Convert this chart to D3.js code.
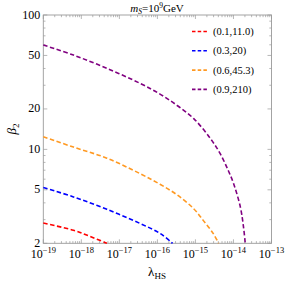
<!DOCTYPE html>
<html>
<head>
<meta charset="utf-8">
<script src="https://cdn.jsdelivr.net/npm/d3@7"></script>
<style>
  body { margin: 0; background: #fff; }
  text { font-family: "Liberation Serif", "DejaVu Serif", serif; fill: #000; }
</style>
</head>
<body>
<div id="chart"></div>
<script>
// curves: lambda_HS vs beta_2
var redLambda = [1e-19, 6.2e-19, 1.7e-18, 4.7e-18];
var redBeta = [2.83, 2.5, 2.25, 2.0];
var blueLambda = [1e-19, 6.2e-19, 4.7e-18, 3.5e-17, 1.2e-16, 2.5e-16];
var blueBeta = [5.2, 4.43, 3.58, 2.81, 2.36, 2.0];
var orangeLambda = [1e-19, 6.2e-19, 4.7e-18, 3.5e-17, 1.17e-16, 3.24e-16, 8.9e-16, 1.62e-15, 2.95e-15, 4.07e-15];
var orangeBeta = [12.4, 10.4, 8.6, 6.6, 5.5, 4.6, 3.63, 2.95, 2.36, 2.0];
var purpleLambda = [1e-19, 6.2e-19, 4.7e-18, 3.5e-17, 1.17e-16, 3.24e-16, 8.9e-16, 2.45e-15, 4.47e-15, 7.4e-15, 1e-14, 1.51e-14, 1.82e-14, 2.04e-14];
var purpleBeta = [59.8, 50.3, 40.1, 31.0, 25.8, 21.3, 17.0, 12.1, 9.3, 6.9, 5.6, 3.75, 2.7, 2.0];

var legendLabels = ["(0.1,11.0)", "(0.3,20)", "(0.6,45.3)", "(0.9,210)"];
var colors = ["#ff0000", "#0000ff", "#ff9922", "#800080"];
var xTickExps = [-19, -18, -17, -16, -15, -14, -13];
var yTickValues = [2, 5, 10, 20, 50, 100];

var series = [
  {lambda: redLambda, beta: redBeta},
  {lambda: blueLambda, beta: blueBeta},
  {lambda: orangeLambda, beta: orangeBeta},
  {lambda: purpleLambda, beta: purpleBeta}
];

var W = 285, H = 284;
// plot frame (note: "top" is reserved on window, so use a prefix)
var pLeft = 43.3, pRight = 271.5, pTop = 15, pBottom = 243.3;

var svg = d3.select("#chart").append("svg")
  .attr("width", W)
  .attr("height", H);

var x = d3.scaleLog().domain([1e-19, 1e-13]).range([pLeft, pRight]);
var y = d3.scaleLog().domain([2, 100]).range([pBottom, pTop]);

var frameColor = "#9a9a9a";

// minor and major ticks
var xMinor = [];
for (var e = -19; e < -13; e++) {
  for (var m = 2; m <= 9; m++) xMinor.push(m * Math.pow(10, e));
}
var yMinor = [3, 4, 6, 7, 8, 9, 30, 40, 60, 70, 80, 90];
var xMajor = xTickExps.map(function(e) { return Math.pow(10, e); });

var ticks = svg.append("g").attr("stroke", frameColor).attr("stroke-width", 0.7);
function vTicks(vals, len) {
  vals.forEach(function(v) {
    ticks.append("line").attr("x1", x(v)).attr("x2", x(v)).attr("y1", pBottom).attr("y2", pBottom - len);
    ticks.append("line").attr("x1", x(v)).attr("x2", x(v)).attr("y1", pTop).attr("y2", pTop + len);
  });
}
function hTicks(vals, len) {
  vals.forEach(function(v) {
    ticks.append("line").attr("y1", y(v)).attr("y2", y(v)).attr("x1", pLeft).attr("x2", pLeft + len);
    ticks.append("line").attr("y1", y(v)).attr("y2", y(v)).attr("x1", pRight).attr("x2", pRight - len);
  });
}
vTicks(xMajor, 4);
vTicks(xMinor, 2.2);
hTicks(yTickValues, 4);
hTicks(yMinor, 2.2);

svg.append("rect")
  .attr("x", pLeft).attr("y", pTop)
  .attr("width", pRight - pLeft).attr("height", pBottom - pTop)
  .attr("fill", "none").attr("stroke", frameColor).attr("stroke-width", 0.9);

// x tick labels 10^e
xTickExps.forEach(function(e) {
  var t = svg.append("text")
    .attr("x", x(Math.pow(10, e)))
    .attr("y", 258)
    .attr("text-anchor", "middle")
    .style("font-size", "12px");
  t.append("tspan").text("10");
  t.append("tspan").attr("dy", -5).style("font-size", "8.5px").text("\u2212" + (-e));
});

// y tick labels
yTickValues.forEach(function(v) {
  svg.append("text")
    .attr("x", pLeft - 3)
    .attr("y", y(v) + 3.5)
    .attr("text-anchor", "end")
    .style("font-size", "12px")
    .text(v);
});

// curves
var line = d3.line()
  .x(function(d) { return x(d[0]); })
  .y(function(d) { return y(d[1]); })
  .curve(d3.curveCatmullRom.alpha(0.5));

series.forEach(function(s, i) {
  var pts = s.lambda.map(function(l, j) { return [l, s.beta[j]]; });
  svg.append("path")
    .attr("d", line(pts))
    .attr("fill", "none")
    .attr("stroke", colors[i])
    .attr("stroke-width", 1.6)
    .attr("stroke-dasharray", "4.5,2.5");
});

// legend
legendLabels.forEach(function(lab, i) {
  var ly = 31.5 + i * 19.3;
  svg.append("line")
    .attr("x1", 192).attr("x2", 207.5)
    .attr("y1", ly).attr("y2", ly)
    .attr("stroke", colors[i])
    .attr("stroke-width", 1.6)
    .attr("stroke-dasharray", "3.5,2.2");
  svg.append("text")
    .attr("x", 213)
    .attr("y", ly + 3.5)
    .style("font-size", "10.5px")
    .text(lab);
});

// title
var title = svg.append("text")
  .attr("x", 157)
  .attr("y", 12)
  .attr("text-anchor", "middle")
  .style("font-size", "11px");
title.append("tspan").style("font-style", "italic").text("m");
title.append("tspan").attr("dy", 2).style("font-size", "7.5px").style("font-style", "italic").text("S");
title.append("tspan").attr("dy", -2).text("=10");
title.append("tspan").attr("dy", -4).style("font-size", "7.5px").text("9");
title.append("tspan").attr("dy", 4).text("GeV");

// axis labels
var xl = svg.append("text")
  .attr("x", 157)
  .attr("y", 276)
  .attr("text-anchor", "middle")
  .style("font-size", "13px");
xl.append("tspan").text("\u03bb");
xl.append("tspan").attr("dy", 3).style("font-size", "9px").text("HS");

var yl = svg.append("text")
  .attr("transform", "translate(16," + 129 + ") rotate(-90)")
  .attr("text-anchor", "middle")
  .style("font-size", "13px");
yl.append("tspan").style("font-style", "italic").text("\u03b2");
yl.append("tspan").attr("dy", 3).style("font-size", "9px").text("2");
</script>
</body>
</html>
